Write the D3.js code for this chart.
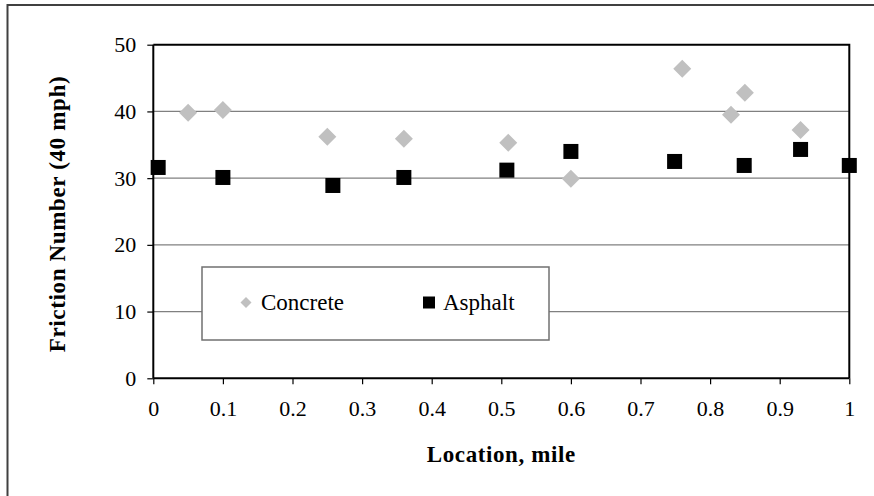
<!DOCTYPE html>
<html>
<head>
<meta charset="utf-8">
<script src="https://cdn.jsdelivr.net/npm/d3@7"></script>
<style>
  html, body { margin: 0; padding: 0; background: #fff; }
  svg { display: block; }
  text { font-family: "Liberation Serif", "Times New Roman", serif; }
</style>
</head>
<body>
<svg id="chart" width="874" height="496"></svg>
<script>
// ---- data ----
const concreteX = [0.05, 0.10, 0.25, 0.36, 0.51, 0.60, 0.76, 0.83, 0.85, 0.93];
const concreteY = [39.8, 40.2, 36.2, 35.9, 35.3, 29.9, 46.4, 39.5, 42.8, 37.2];
const asphaltX  = [0.007, 0.10, 0.258, 0.36, 0.508, 0.60, 0.749, 0.849, 0.93, 1.00];
const asphaltY  = [31.6, 30.1, 28.9, 30.1, 31.2, 34.0, 32.5, 31.9, 34.3, 31.9];
const xTicks = [0, 0.1, 0.2, 0.3, 0.4, 0.5, 0.6, 0.7, 0.8, 0.9, 1];
const yTicks = [0, 10, 20, 30, 40, 50];
const seriesNames = ["Concrete", "Asphalt"];
const xTitle = "Location, mile";
const yTitle = "Friction Number (40 mph)";

// ---- layout ----
const svg = d3.select("#chart");
const L = 153.3, R = 849.3, T = 44.7, B = 378.3;
const x = d3.scaleLinear().domain([0, 1]).range([L, R]);
const y = d3.scaleLinear().domain([0, 50]).range([B, T]);

// outer frame (right/bottom edges fall outside the picture)
svg.append("rect").attr("x", 7.5).attr("y", 5).attr("width", 900).attr("height", 520)
  .attr("fill", "none").attr("stroke", "#404040").attr("stroke-width", 2);

// gridlines
svg.append("g").selectAll("line").data(yTicks.filter(d => d > 0 && d < 50)).join("line")
  .attr("x1", L).attr("x2", R).attr("y1", d => y(d)).attr("y2", d => y(d))
  .attr("stroke", "#808080").attr("stroke-width", 1.3);

// plot border top & right
svg.append("path").attr("d", `M${L},${y(50)}H${R}V${B}`)
  .attr("fill", "none").attr("stroke", "#000").attr("stroke-width", 2);

// axes
const xAxis = d3.axisBottom(x).tickValues(xTicks).tickSize(6).tickPadding(13)
  .tickFormat(d => d3.format("")(d));
const gx = svg.append("g").attr("transform", `translate(0,${B})`).call(xAxis);
const yAxis = d3.axisLeft(y).tickValues(yTicks).tickSize(6).tickPadding(11).tickFormat(d3.format("d"));
const gy = svg.append("g").attr("transform", `translate(${L},0)`).call(yAxis);
[gx, gy].forEach(g => {
  g.select(".domain").attr("stroke", "#000").attr("stroke-width", 2);
  g.selectAll(".tick line").attr("stroke", "#000").attr("stroke-width", 1.2);
  g.selectAll(".tick text").attr("font-family", "Liberation Serif").attr("font-size", 22).attr("fill", "#000");
});
gx.select(".domain").attr("d", `M${L},0H${R}`);
gy.select(".domain").attr("d", `M0,${B}V${T}`);
gx.selectAll(".tick text").attr("dy", null).attr("y", 38);

// titles
svg.append("text").attr("x", (L + R) / 2).attr("y", 461.5).attr("text-anchor", "middle")
  .attr("font-weight", "bold").attr("font-size", 23).attr("letter-spacing", 0.6).text(xTitle);
svg.append("text").attr("transform", `translate(65,214) rotate(-90)`).attr("text-anchor", "middle")
  .attr("font-weight", "bold").attr("font-size", 23).attr("letter-spacing", 0.65).text(yTitle);

// symbols
const diamond = s => `M0,${-s}L${s},0L0,${s}L${-s},0Z`;
const concrete = concreteX.map((v, i) => ({ x: v, y: concreteY[i] }));
const asphalt = asphaltX.map((v, i) => ({ x: v, y: asphaltY[i] }));

svg.append("g").selectAll("path").data(concrete).join("path")
  .attr("transform", d => `translate(${x(d.x)},${y(d.y)})`)
  .attr("d", diamond(9)).attr("fill", "#c0c0c0");
svg.append("g").selectAll("rect").data(asphalt).join("rect")
  .attr("x", d => x(d.x) - 7.5).attr("y", d => y(d.y) - 7.5)
  .attr("width", 15).attr("height", 15).attr("fill", "#000");

// legend
const lg = svg.append("g");
lg.append("rect").attr("x", 202).attr("y", 267).attr("width", 347).attr("height", 73)
  .attr("fill", "#fff").attr("stroke", "#707070").attr("stroke-width", 1.5);
lg.append("path").attr("transform", "translate(246,302.5)").attr("d", diamond(5.5)).attr("fill", "#c0c0c0");
lg.append("text").attr("x", 261).attr("y", 310).attr("font-size", 23).text(seriesNames[0]);
lg.append("rect").attr("x", 423).attr("y", 296.5).attr("width", 12).attr("height", 12).attr("fill", "#000");
lg.append("text").attr("x", 443).attr("y", 310).attr("font-size", 23).text(seriesNames[1]);
</script>
</body>
</html>
